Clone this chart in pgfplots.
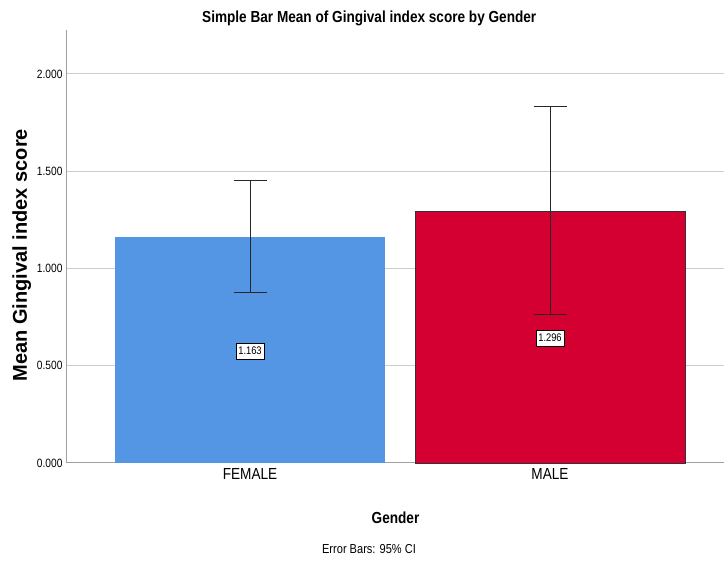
\documentclass[border=0pt]{standalone}
\usepackage{pgfplots}
\pgfplotsset{compat=1.18}
\usepackage{fontspec}
\setmainfont{Liberation Sans}
\newfontfamily\narrow[FakeStretch=0.85]{Liberation Sans}

\definecolor{spssblue}{RGB}{84,149,228}
\definecolor{spssred}{RGB}{212,0,50}
\definecolor{gridgray}{RGB}{205,205,205}
\definecolor{axisgray}{RGB}{160,160,160}
\definecolor{errgray}{RGB}{40,40,40}

\begin{document}
\begin{tikzpicture}[x=1pt,y=1pt]
\path[use as bounding box] (0,0) rectangle (724,563);
\begin{axis}[
  at={(67pt,100pt)}, anchor=south west,
  scale only axis, width=657pt, height=433pt,
  xmin=-0.61, xmax=1.58, ymin=0, ymax=2.226,
  axis x line*=bottom, axis y line*=left,
  axis line style={axisgray, line width=1pt},
  major tick length=0pt,
  xtick={0,1}, xticklabels={FEMALE,MALE},
  ytick={0,0.5,1,1.5,2},
  ymajorgrids, grid style={gridgray, line width=1pt},
  yticklabel style={/pgf/number format/fixed, /pgf/number format/fixed zerofill,
    /pgf/number format/precision=3, /pgf/number format/assume math mode=true,
    font=\narrow\fontsize{12}{14}\selectfont, xshift=-1pt},
  xticklabel style={font=\narrow\fontsize{16}{18}\selectfont, yshift=-2pt},
  title={Simple Bar Mean of Gingival index score by Gender},
  title style={at={(axis description cs:0.46,1.012)}, anchor=center, font=\narrow\bfseries\fontsize{16}{18}\selectfont},
  xlabel={Gender},
  xlabel style={at={(axis description cs:0.5,-0.127)}, anchor=center, font=\narrow\bfseries\fontsize{16}{18}\selectfont},
  ylabel={Mean Gingival index score},
  ylabel style={at={(axis description cs:-0.069,0.48)}, anchor=center, font=\bfseries\fontsize{20}{24}\selectfont},
  clip=false,
]
% bars with 95% CI
\addplot[ybar, bar width=0.9, bar shift=0pt, fill=spssblue, draw=none,
  error bars/.cd, y dir=both, y explicit,
  error bar style={errgray, line width=1pt},
  error mark options={rotate=90, mark size=16.5pt, errgray, line width=1pt}]
coordinates {(0,1.163) += (0,0.287) -= (0,0.284)};
\addplot[ybar, bar width=0.9, bar shift=0pt, fill=spssred, draw=black!80, line width=0.8pt,
  error bars/.cd, y dir=both, y explicit,
  error bar style={errgray, line width=1pt},
  error mark options={rotate=90, mark size=16.5pt, errgray, line width=1pt}]
coordinates {(1,1.296) += (0,0.539) -= (0,0.535)};
% value labels at half height
\addplot[draw=none, mark=none, point meta=explicit symbolic,
  nodes near coords,
  nodes near coords style={anchor=center, draw=black, fill=white, line width=0.6pt,
    inner xsep=2.5pt, inner ysep=4pt, font=\narrow\fontsize{11}{13}\selectfont}]
coordinates {(0,0.576) [1.163] (1,0.643) [1.296]};
\end{axis}
\node[font=\narrow\fontsize{13}{15}\selectfont] at (369,14) {Error Bars: 95\% CI};
\end{tikzpicture}
\end{document}
